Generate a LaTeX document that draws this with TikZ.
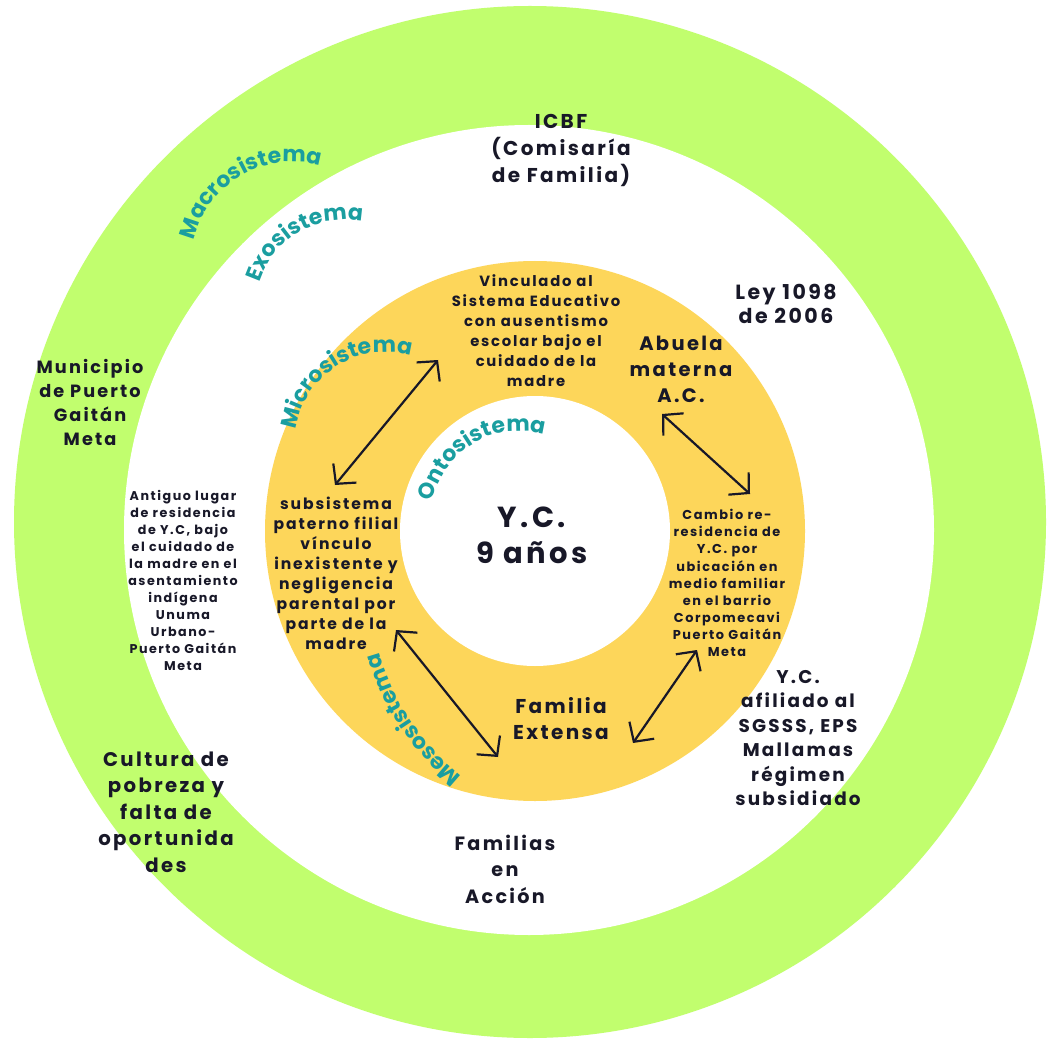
\documentclass[tikz,border=0pt]{standalone}
\usepackage{fontspec}
\setmainfont{Poppins}[LetterSpace=12]
\newfontfamily\tealfam{Poppins}[LetterSpace=5]
\usetikzlibrary{decorations.text,arrows.meta}
\definecolor{ringgreen}{RGB}{193,254,110}
\definecolor{ringyellow}{RGB}{253,214,90}
\definecolor{tealc}{RGB}{26,158,160}
\definecolor{inkc}{RGB}{24,24,40}
\newcommand\myfs[2]{\fontsize{#1}{#2}\selectfont\bfseries}
\newcommand\tealfnt{\tealfam\bfseries\fontsize{22}{22}\selectfont\color{tealc}}
\begin{document}
\begin{tikzpicture}[x=1pt,y=1pt,
  lbl/.style={text=inkc, align=center, inner sep=0pt},
  arr/.style={draw=inkc, line width=2.2pt, line cap=round, line join=round,
    {Straight Barb[length=14pt,width=30pt]}-{Straight Barb[length=14pt,width=30pt]}},
  curved/.style={decorate, decoration={text along path, text={|\tealfnt|#1},
    text align=center}}
]
\fill[white] (0,0) rectangle (1049,-1048);
\useasboundingbox (0,0) rectangle (1049,-1048);
% rings
\fill[ringgreen] (530,-522) circle[radius=516];
\fill[white] (529,-530) circle[radius=405];
\fill[ringyellow] (535,-531) circle[radius=270];
\fill[white] (535,-531) circle[radius=135];
% curved system labels
\path[curved=Macrosistema] (292,-262) ++(175:100) arc[start angle=175, end angle=66, radius=100];
\path[curved=Exosistema] (345,-310) ++(170:90) arc[start angle=170, end angle=71, radius=90];
\path[curved=Microsistema] (386,-443) ++(181:91) arc[start angle=181, end angle=65, radius=91];
\path[curved=Ontosistema] (520,-521) ++(179:90) arc[start angle=179, end angle=63, radius=90];
\path[curved=Mesosistema] (612.7,-587.4) ++(245:242) arc[start angle=245, end angle=182, radius=242];
% text blocks
\node[lbl, font=\myfs{20}{27}] (icbf) at (561,-150) {ICBF\\(Comisaría\\de Familia)};
\node[lbl, font=\myfs{20.5}{24}] (ley) at (786,-304) {Ley 1098\\de 2006};
\node[lbl, font=\myfs{19.5}{26}] (abuela) at (681,-369) {Abuela\\materna\\A.C.};
\node[lbl, font=\myfs{14.8}{20}] (vinc) at (536,-331) {Vinculado al\\Sistema Educativo\\con ausentismo\\escolar bajo el\\cuidado de la\\madre};
\node[lbl, font=\myfs{17.7}{24}] (muni) at (90,-402) {Municipio\\de Puerto\\Gaitán\\Meta};
\node[lbl, font=\myfs{12.7}{17}] (antiguo) at (183,-580) {Antiguo lugar\\de residencia\\de Y.C, bajo\\el cuidado de\\la madre en el\\asentamiento\\indígena\\Unuma\\Urbano-\\Puerto Gaitán\\Meta};
\node[lbl, font=\myfs{15.6}{20}] (subsis) at (336,-573) {subsistema\\paterno filial\\vínculo\\inexistente y\\negligencia\\parental por\\parte de la\\madre};
\node[lbl, font=\myfs{29}{36}] (yc) at (532,-535) {Y.C.\\9 años};
\node[lbl, font=\myfs{12.9}{17.1}] (cambio) at (727,-583) {Cambio re-\\residencia de\\Y.C. por\\ubicación en\\medio familiar\\en el barrio\\Corpomecavi\\Puerto Gaitán\\Meta};
\node[lbl, font=\myfs{20}{26}] (familia) at (561,-719) {Familia\\Extensa};
\node[lbl, font=\myfs{18.4}{24.5}] (afiliado) at (798,-738) {Y.C.\\afiliado al\\SGSSS, EPS\\Mallamas\\régimen\\subsidiado};
\node[lbl, font=\myfs{19.7}{26.5}] (cultura) at (166,-812) {Cultura de\\pobreza y\\falta de\\oportunida\\des};
\node[lbl, font=\myfs{19.2}{26.5}] (familias) at (505,-869) {Familias\\en\\Acción};
% arrow ends
\coordinate (a1) at (335,-485);
\coordinate (a2) at (438,-360);
\coordinate (b1) at (662,-414);
\coordinate (b2) at (750,-494);
\coordinate (c1) at (396,-630);
\coordinate (c2) at (498,-757);
\coordinate (d1) at (697,-650);
\coordinate (d2) at (633,-743);
\draw[arr] (a1) -- (a2);
\draw[arr] (b1) -- (b2);
\draw[arr] (c1) -- (c2);
\draw[arr] (d1) -- (d2);
\end{tikzpicture}
\end{document}
